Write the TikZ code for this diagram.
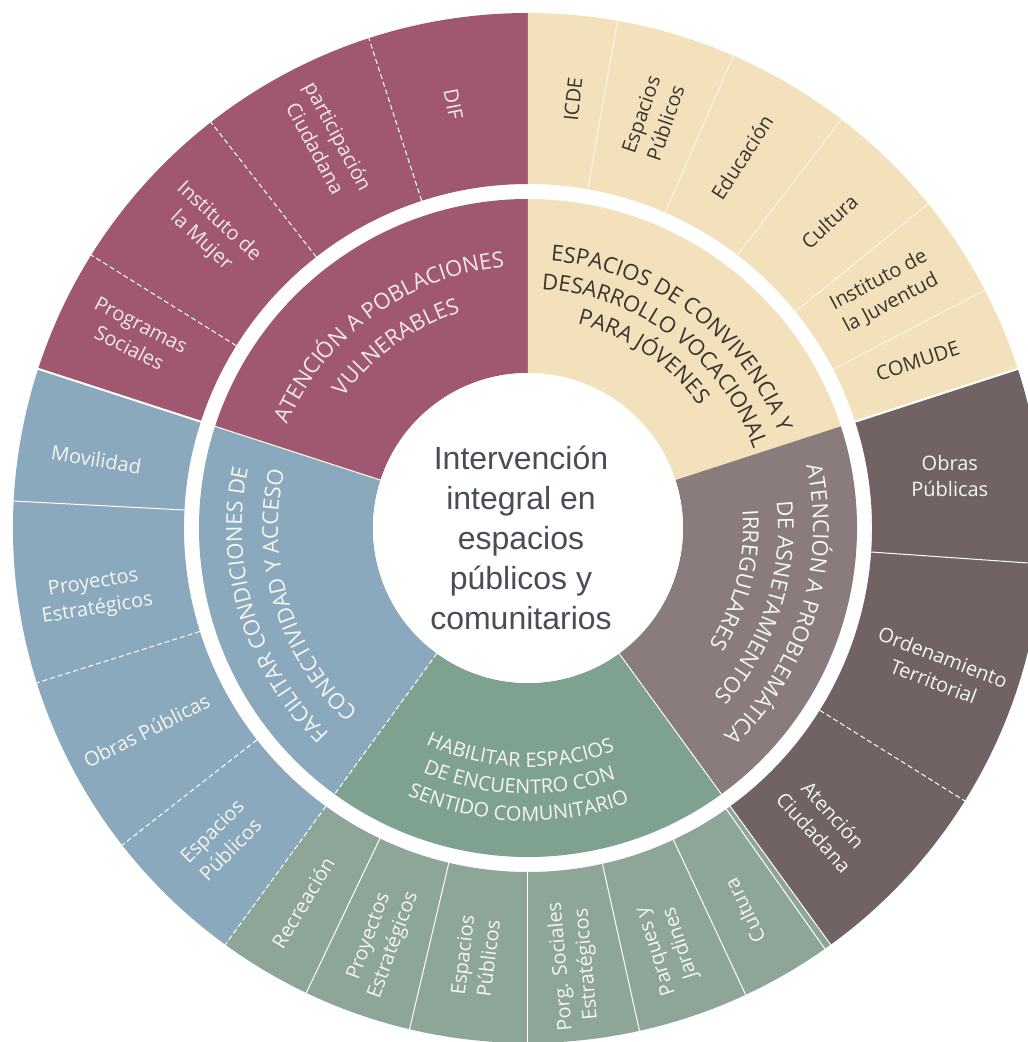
\documentclass[tikz,border=0pt]{standalone}
\usepackage{fontspec}
\setmainfont{Open Sans}
\newfontfamily\ctrfont{Liberation Sans}
\usetikzlibrary{decorations.text}
\definecolor{mag}{RGB}{159,88,111}
\definecolor{crm}{RGB}{243,225,187}
\definecolor{brn}{RGB}{113,98,99}
\definecolor{mauv}{RGB}{138,123,125}
\definecolor{grnI}{RGB}{127,161,143}
\definecolor{grnO}{RGB}{142,166,151}
\definecolor{blu}{RGB}{139,169,189}
\definecolor{pinktxt}{RGB}{246,232,237}
\definecolor{darktxt}{RGB}{58,52,46}
\definecolor{lighttxt}{RGB}{246,246,244}
\definecolor{ctrtxt}{RGB}{72,77,86}
\definecolor{crmline}{RGB}{252,246,232}
\newcommand{\ringsector}[5]{\fill[#5] (#1:#3) arc[start angle=#1, end angle=#2, radius=#3] -- (#2:#4) arc[start angle=#2, end angle=#1, radius=#4] -- cycle;}
\newcommand{\radline}[4]{\draw[#4] (#1:#2) -- (#1:#3);}
\newcommand{\inlabfont}{\fontsize{22}{26}\selectfont}
\newcommand{\inlabfontS}{\fontsize{20}{24}\selectfont}
% clockwise text (tops outward): #1 centre angle, #2 half span, #3 baseline radius, #4 colour, #5 text
\newcommand{\cwtext}[5]{\path[decorate, decoration={text along path, text color=#4, text align=center, text={|\inlabfont|#5}}] ({#1+#2}:#3) arc[start angle={#1+#2}, end angle={#1-#2}, radius=#3];}
% counter-clockwise text (tops inward)
\newcommand{\ccwtext}[5]{\path[decorate, decoration={text along path, text color=#4, text align=center, text={|\inlabfontS|#5}}] ({#1-#2}:#3) arc[start angle={#1-#2}, end angle={#1+#2}, radius=#3];}
\begin{document}
\begin{tikzpicture}[x=1pt,y=1pt,
  olab/.style={font=\fontsize{20}{26}\selectfont, align=center, inner sep=0pt},
  grpline/.style={white, line width=2pt},
  subline/.style={white, line width=1pt},
  subdash/.style={white, line width=1pt, dash pattern=on 5pt off 3pt}]
\useasboundingbox (-528,-514) rectangle (500,528);
\fill[white] (-528,-514) rectangle (500,528);
\clip (-528,-514) rectangle (500,528);
% inner ring
\ringsector{90}{162}{155}{329}{mag}
\ringsector{18}{90}{155}{329}{crm}
\ringsector{-54}{18}{155}{329}{mauv}
\ringsector{234}{306}{155}{329}{grnI}
\ringsector{162}{234}{155}{329}{blu}
% outer ring
\ringsector{90}{162}{344}{515}{mag}
\ringsector{18}{90}{344}{515}{crm}
\ringsector{-54}{18}{344}{515}{brn}
\ringsector{234}{306}{344}{515}{grnO}
\ringsector{162}{234}{344}{515}{blu}
% inner ring boundaries
\radline{162}{155}{329}{subline}
\radline{234}{155}{329}{subdash}
\radline{306}{155}{329}{subline}
% outer group boundaries
\radline{162}{344}{515}{grpline}
\radline{234}{344}{515}{subdash}
\radline{306}{344}{515}{subline}
\radline{305.2}{344}{515}{subline}
\radline{18}{344}{515}{grpline}
% magenta sub
\radline{108}{344}{515}{subdash}
\radline{128}{344}{515}{subdash}
\radline{148}{344}{515}{subdash}
% cream sub
\radline{80}{344}{515}{crmline, line width=1pt}
\radline{66.5}{344}{515}{crmline, line width=1pt}
\radline{52.5}{344}{515}{crmline, line width=1pt}
\radline{39}{344}{515}{crmline, line width=1pt}
\radline{27.5}{344}{515}{crmline, line width=1pt}
% brown sub
\radline{-4}{344}{515}{subline}
\radline{-32}{344}{515}{subdash}
% green sub
\radline{244.5}{344}{515}{subline}
\radline{256.7}{344}{515}{subline}
\radline{270}{344}{515}{subline}
\radline{282.5}{344}{515}{subline}
\radline{295}{344}{515}{subline}
% blue sub
\radline{177}{344}{515}{subline}
\radline{197.5}{344}{515}{subdash}
\radline{218}{344}{515}{subdash}
% centre
\fill[white] (0,0) circle[radius=155];
\node[font=\ctrfont\fontsize{32}{40}\selectfont, text=ctrtxt, align=center, inner sep=0pt] (centre) at (-7,-10) {Intervención\\integral en\\espacios\\públicos y\\comunitarios};
% inner labels
\cwtext{126}{45}{262}{pinktxt}{ATENCIÓN A POBLACIONES}
\cwtext{126}{45}{226}{pinktxt}{VULNERABLES}
\cwtext{53}{45}{268}{darktxt}{ESPACIOS DE CONVIVENCIA Y}
\cwtext{53}{45}{239}{darktxt}{DESARROLLO VOCACIONAL}
\cwtext{56}{45}{210}{darktxt}{PARA JÓVENES}
\cwtext{-17}{45}{285}{lighttxt}{ATENCIÓN A PROBLEMÁTICA}
\cwtext{-18}{45}{250}{lighttxt}{DE ASNETAMIENTOS}
\cwtext{-14}{45}{215}{lighttxt}{IRREGULARES}
\cwtext{197}{45}{286}{lighttxt}{FACILITAR CONDICIONES DE}
\cwtext{197}{45}{250}{lighttxt}{CONECTIVIDAD Y ACCESO}
\ccwtext{268}{45}{239}{lighttxt}{HABILITAR ESPACIOS}
\ccwtext{268}{45}{266}{lighttxt}{DE ENCUENTRO CON}
\ccwtext{268}{45}{293}{lighttxt}{SENTIDO COMUNITARIO}
% outer labels: magenta
\node[olab, text=pinktxt, rotate=-79] (dif) at (100:430) {DIF};
\node[olab, text=pinktxt, rotate=-62] (partic) at (117.5:435) {participación\\Ciudadana};
\node[olab, text=pinktxt, rotate=-43] (mujer) at (137:435) {Instituto de\\la Mujer};
\node[olab, text=pinktxt, rotate=-27] (progsoc) at (154:437) {Programas\\Sociales};
% cream
\node[olab, text=darktxt, rotate=84] (icde) at (84:431) {ICDE};
\node[olab, text=darktxt, rotate=71] (esppub1) at (73:428) {Espacios\\Públicos};
\node[olab, text=darktxt, rotate=57] (educ) at (60:428) {Educación};
\node[olab, text=darktxt, rotate=43] (cult1) at (45.5:430) {Cultura};
\node[olab, text=darktxt, rotate=28] (juv) at (33.5:428) {Instituto de\\la Juventud};
\node[olab, text=darktxt, rotate=18] (comude) at (23.2:424) {COMUDE};
% brown
\node[olab, text=lighttxt, rotate=0] (obras1) at (7:425) {Obras\\Públicas};
\node[olab, text=lighttxt, rotate=-21] (orden) at (-19:434) {Ordenamiento\\Territorial};
\node[olab, text=lighttxt, rotate=-48] (atenc) at (-45:418) {Atención\\Ciudadana};
% green
\node[olab, text=lighttxt, rotate=59] (recre) at (239:437) {Recreación};
\node[olab, text=lighttxt, rotate=70] (proy2) at (250.5:438) {Proyectos\\Estratégicos};
\node[olab, text=lighttxt, rotate=83] (esppub3) at (263:432) {Espacios\\Públicos};
\node[olab, text=lighttxt, rotate=95] (porg) at (276:440) {Porg. Sociales\\Estratégicos};
\node[olab, text=lighttxt, rotate=108] (parques) at (288.5:442) {Parques y\\Jardines};
\node[olab, text=lighttxt, rotate=116] (cult2) at (299.5:440) {Cultura};
% blue
\node[olab, text=lighttxt, rotate=-9] (movil) at (171:437) {Movilidad};
\node[olab, text=lighttxt, rotate=9] (proy1) at (189:438) {Proyectos\\Estratégicos};
\node[olab, text=lighttxt, rotate=27] (obras2) at (208:432) {Obras Públicas};
\node[olab, text=lighttxt, rotate=45] (esppub2) at (225.5:438) {Espacios\\Públicos};
\end{tikzpicture}
\end{document}
